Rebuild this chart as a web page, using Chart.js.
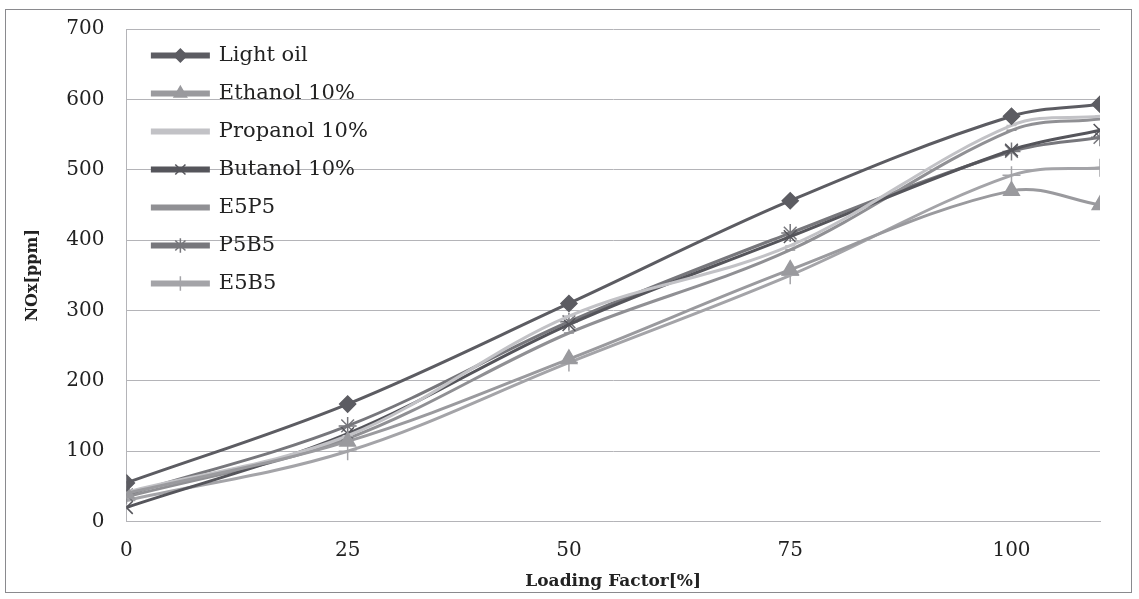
<!DOCTYPE html>
<html>
<head>
<meta charset="utf-8">
<script src="https://cdn.jsdelivr.net/npm/chart.js@4/dist/chart.umd.min.js"></script>
<style>
  html, body { margin: 0; padding: 0; background: #fff; }
  #wrap { position: relative; width: 1139px; height: 599px; }
  #frame { position: absolute; left: 5px; top: 9px; width: 1127px; height: 584px; border: 1px solid #8a8a8e; box-sizing: border-box; pointer-events: none; }
  canvas { position: absolute; left: 0; top: 0; }
</style>
</head>
<body>
<div id="wrap">
  <canvas id="noxChart" width="1139" height="599"></canvas>
  <div id="frame"></div>
</div>
<script>
// loading factor [%]
const loadFactor = [0, 25, 50, 75, 100, 110];
const xTicks = [0, 25, 50, 75, 100];

// NOx [ppm]
const lightOil  = [55, 167, 310, 456, 576, 593];
const ethanol10 = [40, 114, 231, 358, 470, 450];
const propanol10 = [42, 122, 292, 392, 563, 576];
const butanol10 = [20, 125, 280, 405, 528, 556];
const e5p5 = [35, 118, 268, 386, 556, 572];
const p5b5 = [38, 136, 284, 410, 526, 546];
const e5b5 = [30, 100, 226, 350, 492, 503];

const seriesNames = ['Light oil', 'Ethanol 10%', 'Propanol 10%', 'Butanol 10%', 'E5P5', 'P5B5', 'E5B5'];
const seriesData = [lightOil, ethanol10, propanol10, butanol10, e5p5, p5b5, e5b5];
const seriesColors = ['#5c5c62', '#9a9a9e', '#c2c2c6', '#55555b', '#909094', '#77777c', '#a4a4a8'];
const seriesMarkers = ['rectRot', 'triangle', 'line', 'crossRot', 'line', 'star', 'cross'];
const markerSizes = [8, 9, 5, 9, 5, 9, 9];

const serif = '"DejaVu Serif", "Liberation Serif", serif';

// legend sits inside the plot, top-left
const legendPlace = {
    id: 'legendPlace',
    afterLayout(chart) {
        const lg = chart.legend;
        if (!lg) return;
        lg.left = chart.chartArea.left + 9;
        lg.top = 28;
    }
};

// draw the marker over the middle of each legend line
const legendMarkers = {
    id: 'legendMarkers',
    afterDraw(chart) {
        const legend = chart.legend;
        if (!legend || !legend.legendHitBoxes) return;
        const ctx = chart.ctx;
        const boxW = legend.options.labels.boxWidth;
        legend.legendHitBoxes.forEach((hb, i) => {
            const ds = chart.data.datasets[i];
            if (ds.pointStyle === 'line') return;
            ctx.save();
            ctx.fillStyle = ds.borderColor;
            ctx.strokeStyle = ds.borderColor;
            ctx.lineWidth = 1.5;
            Chart.helpers.drawPoint(ctx, {
                pointStyle: ds.pointStyle,
                radius: ds.pointRadius * 0.8,
                borderWidth: 1.5,
                rotation: 0
            }, hb.left + boxW / 2, hb.top + hb.height / 2);
            ctx.restore();
        });
    }
};

const ctx = document.getElementById('noxChart').getContext('2d');

new Chart(ctx, {
    type: 'line',
    data: {
        datasets: seriesNames.map((name, i) => ({
            label: name,
            data: loadFactor.map((x, j) => ({ x: x, y: seriesData[i][j] })),
            borderColor: seriesColors[i],
            backgroundColor: seriesColors[i],
            pointBackgroundColor: seriesColors[i],
            pointBorderColor: seriesColors[i],
            borderWidth: 3,
            pointStyle: seriesMarkers[i],
            pointRadius: markerSizes[i],
            pointBorderWidth: 1.5,
            tension: 0.35,
            fill: false
        }))
    },
    options: {
        responsive: false,
        animation: false,
        layout: {
            padding: { left: 23, right: 39, top: 29, bottom: 7 }
        },
        scales: {
            x: {
                type: 'linear',
                min: 0,
                max: 110,
                afterBuildTicks: (scale) => {
                    scale.ticks = xTicks.map(v => ({ value: v }));
                },
                grid: { display: false },
                border: { display: true, color: '#b4b4b8', width: 1 },
                ticks: {
                    padding: 9,
                    color: '#222',
                    font: { family: serif, size: 20 }
                },
                title: {
                    display: true,
                    text: 'Loading Factor[%]',
                    color: '#222',
                    padding: { top: 0, bottom: 0 },
                    font: { family: serif, size: 17, weight: 'bold' }
                }
            },
            y: {
                min: 0,
                max: 700,
                afterFit: (scale) => {
                    scale.paddingTop = 0;
                },
                ticks: {
                    stepSize: 100,
                    padding: 22,
                    color: '#222',
                    font: { family: serif, size: 20 }
                },
                grid: { color: '#b4b4b8', lineWidth: 1, drawTicks: false },
                border: { display: true, color: '#b4b4b8', width: 1 },
                title: {
                    display: true,
                    text: 'NOx[ppm]',
                    color: '#222',
                    padding: { top: 0, bottom: 2 },
                    font: { family: serif, size: 16, weight: 'bold' }
                }
            }
        },
        plugins: {
            legend: {
                position: 'chartArea',
                align: 'start',
                labels: {
                    boxWidth: 56,
                    boxHeight: 3,
                    padding: 17,
                    color: '#222',
                    font: { family: serif, size: 21 }
                }
            },
            tooltip: { enabled: false }
        }
    },
    plugins: [legendPlace, legendMarkers]
});
</script>
</body>
</html>
